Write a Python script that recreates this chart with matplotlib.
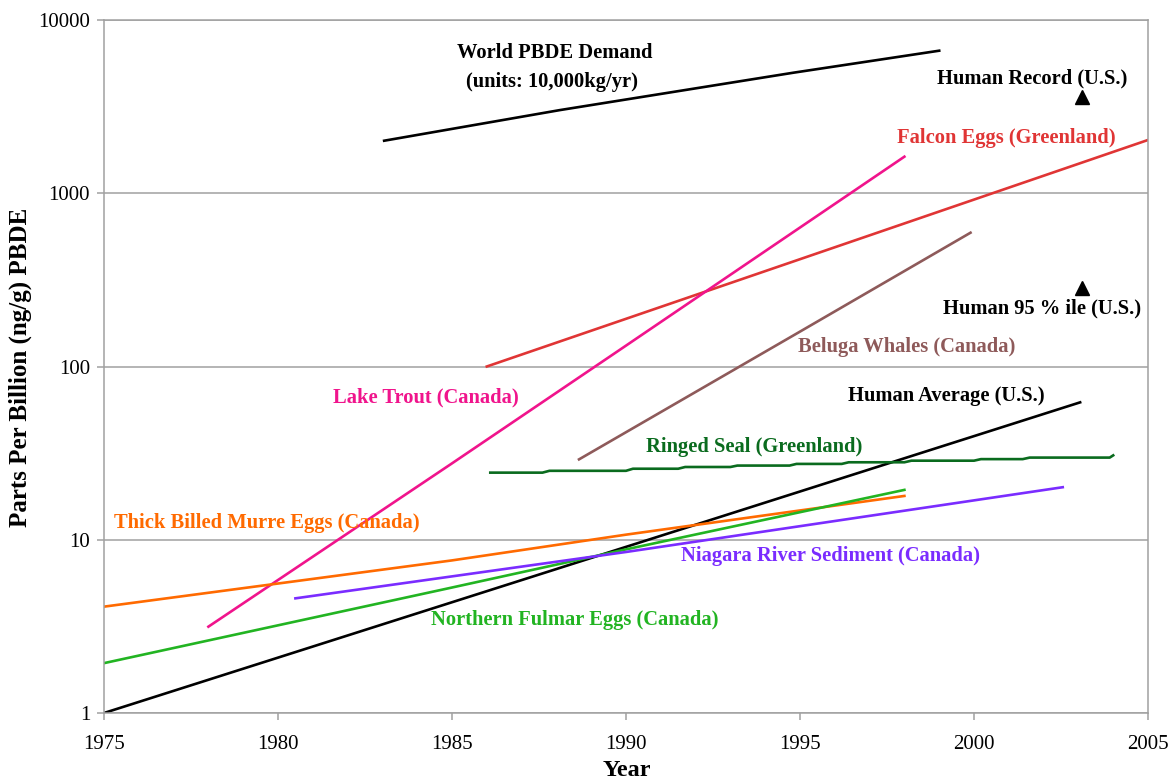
import numpy as np
import matplotlib
matplotlib.use("Agg")
import matplotlib.pyplot as plt

# series (year, ppb)
demand_years = [1983.05, 1988.1, 1994.8, 1999.0]
demand_vals = [2010, 3020, 4960, 6650]

falcon_years = [1986.0, 2005.0]
falcon_vals = [100, 2030]

trout_years = [1978.0, 1985.0, 1990.0, 1998.0]
trout_vals = [3.15, 27.6, 132, 1626]

beluga_years = [1988.65, 1995.0, 1999.9]
beluga_vals = [29.1, 159, 592]

human_avg_years = [1975.0, 2003.05]
human_avg_vals = [1.0, 62.1]

seal_years = [1986.1, 1987.6, 1987.8, 1990.0, 1990.2, 1991.5, 1991.7, 1993.0, 1993.2,
              1994.7, 1994.9, 1996.2, 1996.4, 1998.0, 1998.2, 2000.0, 2000.2, 2001.4,
              2001.6, 2003.9, 2004.0]
seal_vals = [24.4, 24.4, 25.0, 25.0, 25.7, 25.7, 26.3, 26.3, 26.8, 26.8, 27.4, 27.4,
             28.0, 28.0, 28.6, 28.6, 29.2, 29.2, 29.8, 29.8, 30.7]

murre_years = [1975.0, 1985.0, 1990.0, 1998.0]
murre_vals = [4.11, 7.6, 10.7, 17.9]

fulmar_years = [1975.0, 1985.0, 1990.0, 1998.0]
fulmar_vals = [1.94, 5.3, 8.8, 19.4]

niagara_years = [1980.5, 1990.0, 2002.55]
niagara_vals = [4.59, 8.5, 20.1]

human_record = (2003.1, 3600)
human_95 = (2003.1, 283)

x_ticks = [1975, 1980, 1985, 1990, 1995, 2000, 2005]
y_ticks = [1, 10, 100, 1000, 10000]

plt.rcParams['font.family'] = ['Liberation Serif', 'DejaVu Serif']

fig = plt.figure(figsize=(11.73, 7.82), dpi=100)
ax = fig.add_axes([104 / 1173, 1 - 713 / 782, 1044 / 1173, 693 / 782])

lw = 1.9
ax.plot(demand_years, demand_vals, color='black', lw=lw)
ax.plot(falcon_years, falcon_vals, color='#e03535', lw=lw)
ax.plot(trout_years, trout_vals, color='#f0148c', lw=lw)
ax.plot(beluga_years, beluga_vals, color='#8e5a5a', lw=lw)
ax.plot(human_avg_years, human_avg_vals, color='black', lw=lw)
ax.plot(seal_years, seal_vals, color='#0a6b1e', lw=lw)
ax.plot(murre_years, murre_vals, color='#ff6a00', lw=lw)
ax.plot(fulmar_years, fulmar_vals, color='#22b422', lw=lw)
ax.plot(niagara_years, niagara_vals, color='#7a2cff', lw=lw)
ax.plot(*human_record, marker='^', color='black', ms=10, ls='none')
ax.plot(*human_95, marker='^', color='black', ms=10, ls='none')

ax.set_yscale('log')
ax.set_xlim(1975, 2005)
ax.set_ylim(1, 10000)
ax.set_xticks(x_ticks)
ax.set_xticklabels([str(t) for t in x_ticks])
ax.set_yticks(y_ticks)
ax.set_yticklabels([str(t) for t in y_ticks])
ax.minorticks_off()
ax.yaxis.grid(True, color='#a0a0a0', lw=1.1)
ax.set_axisbelow(True)
for s in ax.spines.values():
    s.set_color('#a0a0a0')
    s.set_linewidth(1.1)
ax.tick_params(colors='#a0a0a0', labelcolor='black', labelsize=15, length=5, width=1.1)
ax.tick_params(axis='x', pad=11)
ax.tick_params(axis='y', pad=5)

fig.text(20 / 1173, 1 - 367 / 782, 'Parts Per Billion (ng/g) PBDE', rotation=90,
         ha='center', va='center', fontsize=18, fontweight='bold')
fig.text(627 / 1173, 1 - 771 / 782, 'Year', ha='center', va='center',
         fontsize=17.5, fontweight='bold')

labels = [
    ('World PBDE Demand', 0.432, 0.952, 'black'),
    ('(units: 10,000kg/yr)', 0.429, 0.911, 'black'),
    ('Human Record (U.S.)', 0.889, 0.916, 'black'),
    ('Falcon Eggs (Greenland)', 0.864, 0.830, '#e03535'),
    ('Human 95 % ile (U.S.)', 0.899, 0.584, 'black'),
    ('Beluga Whales (Canada)', 0.769, 0.528, '#8e5a5a'),
    ('Lake Trout (Canada)', 0.308, 0.456, '#f0148c'),
    ('Human Average (U.S.)', 0.807, 0.457, 'black'),
    ('Ringed Seal (Greenland)', 0.623, 0.384, '#0a6b1e'),
    ('Thick Billed Murre Eggs (Canada)', 0.156, 0.274, '#ff6a00'),
    ('Niagara River Sediment (Canada)', 0.696, 0.227, '#7a2cff'),
    ('Northern Fulmar Eggs (Canada)', 0.451, 0.134, '#22b422'),
]
for txt, xf, yf, c in labels:
    ax.text(xf, yf, txt, transform=ax.transAxes, ha='center', va='center',
            fontsize=14.8, fontweight='bold', color=c)

fig.savefig('out.png', dpi=100)
